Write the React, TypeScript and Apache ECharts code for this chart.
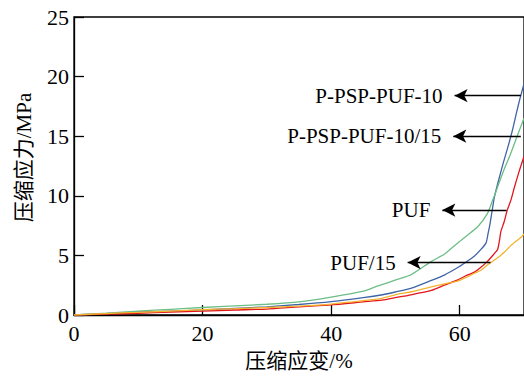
import React, { useEffect, useRef } from "react";
import * as echarts from "echarts";

// Compressive stress-strain curves (strain %, stress MPa)
const seriesNames = ["P-PSP-PUF-10", "P-PSP-PUF-10/15", "PUF", "PUF/15"];
const seriesColors = ["#3f64a6", "#6cbd86", "#e2161c", "#f5b22e"];

const pPspPuf10 = [
  [0, 0], [5, 0.12], [10, 0.25], [15, 0.33], [20, 0.42], [25, 0.55], [30, 0.69],
  [35, 0.88], [40, 1.12], [45, 1.45], [48, 1.7], [50, 1.93], [52.5, 2.25],
  [55.6, 2.9], [57.6, 3.35], [59.7, 3.98], [61, 4.45], [62.3, 4.95], [63.3, 5.5],
  [64.1, 6.05], [64.4, 6.8], [64.7, 7.6], [65, 8.6], [65.4, 9.9], [66, 11.2],
  [66.8, 12.8], [67.5, 14.1], [68.2, 15.5], [68.8, 16.9], [69.3, 18.0], [70, 19.4],
];

const pPspPuf1015 = [
  [0, 0], [5, 0.15], [10, 0.33], [15, 0.48], [20, 0.63], [25, 0.77], [30, 0.9],
  [35, 1.1], [40, 1.5], [45, 2.0], [47.3, 2.45], [50.4, 3.0], [52.5, 3.4],
  [55.6, 4.5], [57.6, 5.1], [59.7, 6.05], [61.2, 6.7], [62.8, 7.4], [64.3, 8.5],
  [65.1, 9.6], [65.6, 10.3], [66.4, 11.5], [67.2, 12.6], [67.9, 13.5],
  [68.8, 14.8], [69.6, 15.95], [70, 16.5],
];

const puf = [
  [0, 0], [5, 0.07], [10, 0.14], [15, 0.25], [20, 0.33], [25, 0.42], [30, 0.5],
  [35, 0.69], [40, 0.85], [45, 1.1], [47.9, 1.24], [50.4, 1.5], [52, 1.65],
  [55.6, 2.06], [57.6, 2.5], [59.7, 2.95], [61, 3.3], [62.3, 3.6], [63.3, 4.0],
  [64.3, 4.5], [65.3, 5.1], [65.9, 5.5], [66.2, 6.3], [66.4, 7.0], [66.9, 7.8],
  [67.4, 8.8], [68, 9.7], [68.5, 10.7], [69.1, 11.8], [69.6, 12.65], [70, 13.3],
];

const puf15 = [
  [0, 0], [5, 0.12], [10, 0.22], [15, 0.33], [20, 0.44], [25, 0.53], [30, 0.63],
  [35, 0.75], [40, 0.92], [45, 1.2], [47.9, 1.4], [50.4, 1.75], [52.5, 1.95],
  [55.6, 2.35], [57.6, 2.6], [59.7, 2.85], [61, 3.15], [62.3, 3.5], [63.3, 3.75],
  [64.3, 4.2], [65.9, 4.8], [67, 5.3], [67.9, 5.8], [68.8, 6.2], [69.6, 6.55],
  [70, 6.8],
];

const seriesData = [pPspPuf10, pPspPuf1015, puf, puf15];

// Arrow annotations: label, stress level, arrow start strain, arrow end strain
const arrowLabels = ["P-PSP-PUF-10", "P-PSP-PUF-10/15", "PUF", "PUF/15"];
const arrowY = [18.4, 15.0, 8.8, 4.4];
const arrowFromX = [59.2, 59.0, 57.3, 51.9];
const arrowToX = [69.5, 69.5, 67.3, 64.8];

const xTicks = { min: 0, max: 70, interval: 20 };
const yTicks = { min: 0, max: 25, interval: 5 };

const FONT = "Liberation Serif, Noto Sans CJK SC, serif";

export default function App() {
  const ref = useRef<HTMLDivElement>(null);

  useEffect(() => {
    if (!ref.current) return;
    const chart = echarts.init(ref.current, undefined, { renderer: "svg" });

    const series = seriesData.map((data, i) => ({
      type: "line",
      name: seriesNames[i],
      data,
      showSymbol: false,
      symbol: "none",
      smooth: 0.2,
      lineStyle: { color: seriesColors[i], width: 1.3 },
      z: 3,
      markLine: {
        silent: true,
        symbol: ["arrow", "none"],
        symbolSize: [10, 13],
        lineStyle: { color: "#000", width: 1.3, type: "solid" },
        label: {
          show: true,
          position: "start",
          distance: 12,
          formatter: arrowLabels[i],
          color: "#000",
          fontSize: 21,
          fontFamily: FONT,
        },
        data: [
          [
            { coord: [arrowFromX[i], arrowY[i]] },
            { coord: [arrowToX[i], arrowY[i]] },
          ],
        ],
      },
    }));

    chart.setOption({
      animation: false,
      backgroundColor: "#fff",
      textStyle: { fontFamily: FONT },
      grid: {
        left: 74,
        top: 17,
        width: 452.6,
        height: 303,
        show: true,
        borderColor: "#000",
        borderWidth: 1.3,
        containLabel: false,
      },
      xAxis: {
        type: "value",
        min: xTicks.min,
        max: xTicks.max,
        interval: xTicks.interval,
        name: "压缩应变/%",
        nameLocation: "middle",
        nameGap: 35,
        nameTextStyle: { color: "#000", fontSize: 21, fontFamily: FONT },
        axisLine: { show: true, lineStyle: { color: "#000", width: 1.3 } },
        axisTick: { show: true, inside: true, length: 10, lineStyle: { color: "#000", width: 1.3 } },
        axisLabel: { color: "#000", fontSize: 22, margin: 7, fontFamily: FONT, showMaxLabel: false },
        splitLine: { show: false },
      },
      yAxis: {
        type: "value",
        min: yTicks.min,
        max: yTicks.max,
        interval: yTicks.interval,
        name: "压缩应力/MPa",
        nameLocation: "middle",
        nameGap: 40,
        nameTextStyle: { color: "#000", fontSize: 21, fontFamily: FONT, padding: [0, 0, 0, 17] },
        axisLine: { show: true, lineStyle: { color: "#000", width: 1.3 } },
        axisTick: { show: true, inside: true, length: 10, lineStyle: { color: "#000", width: 1.3 } },
        axisLabel: { color: "#000", fontSize: 22, margin: 5, fontFamily: FONT },
        splitLine: { show: false },
      },
      series,
    });

    return () => chart.dispose();
  }, []);

  return (
    <div
      ref={ref}
      style={{ position: "absolute", left: 0, top: 0, width: 524, height: 376 }}
    />
  );
}
